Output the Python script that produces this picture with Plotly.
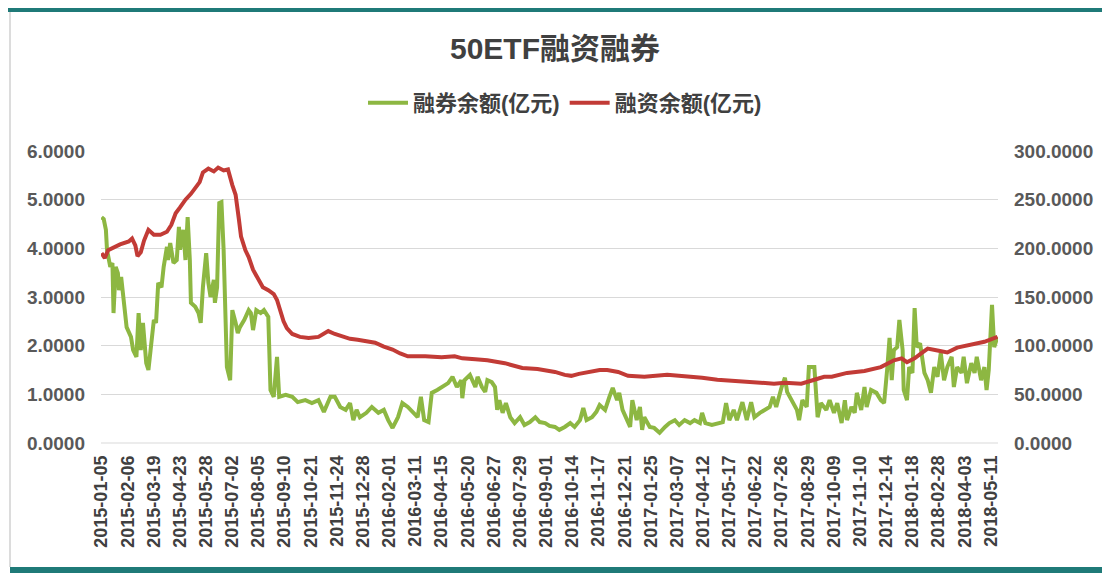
import plotly.graph_objects as go

# ---- data -------------------------------------------------------------
TITLE = "50ETF融资融券"
NAME_SHORT = "融券余额(亿元)"
NAME_MARGIN = "融资余额(亿元)"

TICK_LABELS = [
    "2015-01-05", "2015-02-06", "2015-03-19", "2015-04-23", "2015-05-28",
    "2015-07-02", "2015-08-05", "2015-09-10", "2015-10-21", "2015-11-24",
    "2015-12-28", "2016-02-01", "2016-03-11", "2016-04-15", "2016-05-20",
    "2016-06-27", "2016-07-29", "2016-09-01", "2016-10-14", "2016-11-17",
    "2016-12-21", "2017-01-25", "2017-03-07", "2017-04-12", "2017-05-17",
    "2017-06-22", "2017-07-26", "2017-08-29", "2017-10-09", "2017-11-10",
    "2017-12-14", "2018-01-18", "2018-02-28", "2018-04-03", "2018-05-11",
]
TICK_STEP_DAYS = 24          # one label every 24 trading days
LAST_DAY = 822               # last trading-day index in the series

# 融券余额 (left axis): trading-day index and value
SHORT_DAY = [
    0, 2, 4, 5, 8, 10, 11, 13, 15, 16, 18, 20, 23, 27, 29, 32, 34, 36, 38, 41,
    43, 45, 48, 50, 52, 55, 57, 60, 61, 63, 66, 69, 71, 72, 75, 77, 79, 81, 82, 86,
    89, 91, 93, 96, 98, 100, 103, 104, 106, 108, 110, 112, 114, 115, 118, 120, 123, 125, 127, 131,
    135, 137, 139, 142, 146, 149, 153, 155, 158, 161, 163, 169, 175, 180, 187, 193, 199, 204, 210, 214,
    219, 224, 228, 231, 234, 237, 243, 248, 254, 259, 263, 267, 272, 276, 281, 286, 290, 293, 296, 300,
    303, 308, 312, 318, 322, 326, 330, 331, 333, 338, 343, 345, 349, 352, 354, 358, 361, 363, 365, 368,
    371, 375, 379, 384, 388, 393, 398, 402, 407, 411, 416, 420, 425, 430, 434, 439, 442, 445, 450, 454,
    457, 462, 466, 469, 473, 475, 478, 482, 485, 487, 491, 494, 496, 498, 503, 507, 512, 517, 521, 526,
    530, 535, 540, 544, 549, 551, 554, 560, 565, 570, 573, 576, 580, 583, 588, 592, 596, 599, 604, 608,
    613, 616, 619, 624, 627, 629, 633, 638, 640, 643, 647, 649, 654, 657, 660, 665, 668, 672, 675, 679,
    682, 684, 688, 691, 693, 697, 700, 702, 706, 711, 715, 718, 721, 723, 725, 727, 730, 732, 735, 736,
    739, 741, 744, 746, 748, 751, 755, 758, 761, 764, 767, 770, 773, 776, 780, 782, 785, 789, 791, 794,
    798, 801, 803, 807, 810, 812, 814, 817, 819, 822,
]
SHORT_VAL = [
    4.64, 4.60, 4.38, 3.97, 3.62, 3.70, 2.67, 3.62, 3.49, 3.14, 3.41, 2.94, 2.38, 2.18, 1.91, 1.77, 2.67, 1.91, 2.47, 1.64,
    1.50, 1.91, 2.53, 2.47, 3.29, 3.20, 3.62, 4.03, 3.76, 4.11, 3.70, 3.76, 4.44, 3.97, 4.38, 3.76, 4.64, 3.76, 2.88, 2.80,
    2.67, 2.47, 3.20, 3.90, 3.29, 3.00, 3.35, 2.88, 3.20, 4.93, 4.95, 3.97, 1.77, 1.56, 1.29, 2.73, 2.47, 2.26, 2.38, 2.53,
    2.73, 2.67, 2.32, 2.73, 2.67, 2.73, 2.59, 1.09, 0.95, 1.77, 0.95, 0.99, 0.95, 0.84, 0.88, 0.82, 0.88, 0.64, 0.95, 0.95,
    0.74, 0.68, 0.82, 0.47, 0.68, 0.53, 0.62, 0.74, 0.62, 0.68, 0.47, 0.31, 0.53, 0.82, 0.74, 0.62, 0.53, 0.95, 0.47, 0.43,
    1.03, 1.09, 1.15, 1.23, 1.36, 1.15, 1.29, 0.92, 1.29, 1.40, 1.15, 1.36, 1.15, 1.05, 1.29, 1.25, 1.15, 0.68, 0.88, 0.62,
    0.82, 0.53, 0.41, 0.53, 0.37, 0.43, 0.53, 0.43, 0.41, 0.35, 0.33, 0.27, 0.33, 0.41, 0.33, 0.47, 0.72, 0.47, 0.53, 0.64,
    0.78, 0.68, 0.95, 1.13, 0.88, 1.03, 0.68, 0.47, 0.33, 0.88, 0.47, 0.74, 0.27, 0.53, 0.33, 0.31, 0.21, 0.33, 0.41, 0.47,
    0.37, 0.47, 0.41, 0.47, 0.41, 0.62, 0.41, 0.37, 0.41, 0.43, 0.82, 0.47, 0.68, 0.47, 0.84, 0.47, 0.84, 0.53, 0.62, 0.68,
    0.74, 0.95, 0.74, 1.15, 1.34, 1.05, 0.88, 0.68, 0.47, 0.88, 0.74, 1.56, 1.56, 0.53, 0.82, 0.68, 0.88, 0.62, 0.82, 0.41,
    0.88, 0.47, 0.74, 0.62, 1.03, 0.68, 1.15, 0.74, 1.09, 1.03, 0.88, 0.82, 1.56, 2.16, 1.29, 1.91, 1.97, 2.53, 1.91, 1.09,
    0.88, 1.56, 1.44, 2.77, 1.97, 2.05, 1.44, 1.29, 1.03, 1.56, 1.36, 1.85, 1.29, 1.56, 1.77, 1.15, 1.56, 1.44, 1.77, 1.23,
    1.64, 1.44, 1.77, 1.29, 1.56, 1.09, 1.50, 2.84, 1.97, 2.18,
]

# 融资余额 (right axis): trading-day index and value
MARGIN_DAY = [
    0, 3, 6, 11, 17, 25, 28, 31, 33, 36, 39, 43, 48, 54, 60, 64, 68, 72, 77, 82,
    86, 90, 93, 98, 103, 107, 112, 116, 120, 123, 126, 128, 132, 135, 139, 144, 148, 153, 158, 161,
    164, 167, 170, 175, 182, 190, 199, 203, 208, 214, 221, 228, 235, 243, 251, 259, 267, 274, 281, 297,
    312, 324, 331, 343, 354, 370, 379, 386, 400, 416, 425, 431, 438, 446, 457, 464, 474, 483, 498, 519,
    535, 551, 565, 581, 596, 608, 617, 627, 633, 642, 654, 663, 670, 684, 700, 715, 727, 734, 739, 746,
    752, 758, 767, 776, 785, 798, 810, 822,
]
MARGIN_VAL = [
    195, 190, 198, 201, 204, 207, 210, 203, 192, 196, 208, 219, 214, 214, 217, 224, 236, 242, 250, 256,
    262, 268, 278, 282, 279, 283, 280, 281, 265, 255, 230, 212, 198, 191, 178, 167, 160, 157, 153, 147,
    135, 125, 118, 112, 109, 108, 109, 112, 115, 112, 109, 107, 106, 104, 103, 99, 96, 92, 89, 89,
    88, 89, 87, 86, 85, 82, 79, 77, 76, 73, 70, 69, 71, 73, 75, 75, 73, 69, 68, 70,
    69, 67, 65, 64, 63, 62, 61, 62, 62, 61, 65, 68, 68, 72, 74, 78, 85, 87, 83, 87,
    92, 97, 95, 93, 98, 101, 104, 109,
]

GREEN = "#8DB742"
RED = "#C23B36"
TEXT = "#404040"
TICK = "#595959"
TEAL = "#1F7A78"

# ---- layout geometry (screen pixels; the page body adds an 8px offset) --
OFF = 8
W, H = 1110 - OFF, 575 - OFF
PLOT_X0, PLOT_X1, PLOT_Y0, PLOT_Y1 = 101, 998, 151, 443   # screen coords
L, R = PLOT_X0 - OFF, W - (PLOT_X1 - OFF)
T, B = PLOT_Y0 - OFF, H - (PLOT_Y1 - OFF)
PW, PH = W - L - R, H - T - B


def px(xs):
    return (xs - OFF - L) / PW


def py(ys):
    return (PLOT_Y1 - ys) / PH


fig = go.Figure()
fig.add_trace(go.Scatter(
    x=SHORT_DAY, y=SHORT_VAL, name=NAME_SHORT, mode="lines",
    line=dict(color=GREEN, width=4), yaxis="y",
))
fig.add_trace(go.Scatter(
    x=MARGIN_DAY, y=MARGIN_VAL, name=NAME_MARGIN, mode="lines",
    line=dict(color=RED, width=4), yaxis="y2",
))

tick_days = list(range(0, TICK_STEP_DAYS * len(TICK_LABELS), TICK_STEP_DAYS))

fig.update_layout(
    width=W, height=H,
    margin=dict(l=L, r=R, t=T, b=B, pad=0),
    paper_bgcolor="white", plot_bgcolor="white",
    font=dict(family="Liberation Sans, Arial, Noto Sans CJK SC", color=TEXT),
    title=dict(
        text=TITLE, x=0.5 - 4 / W, xref="container", xanchor="center",
        y=1 - (48 - OFF) / H, yref="container", yanchor="middle",
        font=dict(size=30, color=TEXT, weight="bold",
                  family="Liberation Sans, Noto Sans CJK SC"),
    ),
    showlegend=True,
    legend=dict(
        orientation="h", x=px(565), xanchor="center", y=py(103), yanchor="middle",
        font=dict(size=22, color=TEXT, weight="bold",
                  family="Liberation Sans, Noto Sans CJK SC"),
        itemwidth=40, bgcolor="rgba(0,0,0,0)",
    ),
    xaxis=dict(
        range=[-0.5, LAST_DAY + 0.5],
        tickmode="array", tickvals=tick_days, ticktext=TICK_LABELS,
        tickangle=-90, showgrid=False, zeroline=False, showline=False,
        ticks="", ticklabelstandoff=8,
        tickfont=dict(size=18, color=TEXT, weight="bold"),
    ),
    yaxis=dict(
        range=[0, 6], dtick=1, tick0=0, tickformat=".4f",
        showgrid=True, gridcolor="#D9D9D9", gridwidth=1,
        zeroline=False, showline=False, ticks="", ticklabelstandoff=15,
        tickfont=dict(size=19, color=TICK, weight="bold"),
    ),
    yaxis2=dict(
        range=[0, 300], dtick=50, tick0=0, tickformat=".4f",
        overlaying="y", side="right", showgrid=False,
        zeroline=False, showline=False, ticks="", ticklabelstandoff=15,
        tickfont=dict(size=19, color=TICK, weight="bold"),
    ),
    shapes=[
        # bottom gridline (axis baseline)
        dict(type="line", xref="paper", yref="paper", x0=0, x1=1, y0=0, y1=0,
             line=dict(color="#D9D9D9", width=1)),
        # outer frame: teal bands top and bottom, gray sides
        dict(type="rect", xref="paper", yref="paper",
             x0=px(8), x1=px(1110), y0=py(12), y1=py(8),
             fillcolor=TEAL, line=dict(width=0), layer="above"),
        dict(type="rect", xref="paper", yref="paper",
             x0=px(10), x1=px(1110), y0=py(573), y1=py(567),
             fillcolor=TEAL, line=dict(width=0), layer="above"),
        dict(type="line", xref="paper", yref="paper",
             x0=px(10), x1=px(10), y0=py(567), y1=py(12),
             line=dict(color="#D0D0D0", width=1.5)),
        dict(type="line", xref="paper", yref="paper",
             x0=px(1106), x1=px(1106), y0=py(567), y1=py(12),
             line=dict(color="#E4E4E4", width=1)),
    ],
)

fig.write_html("out.html")
